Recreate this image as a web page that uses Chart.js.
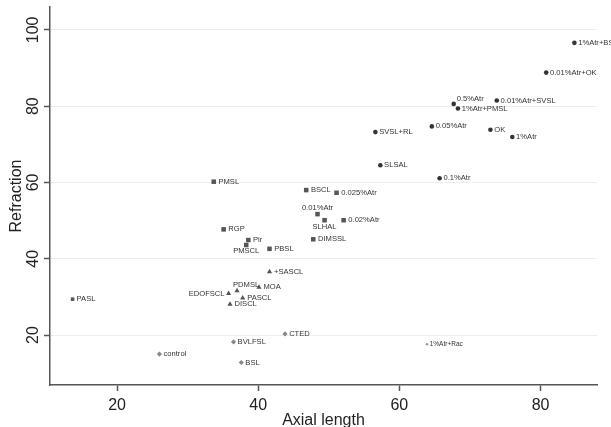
<!DOCTYPE html>
<html>
<head>
<meta charset="utf-8">
<script src="https://cdn.jsdelivr.net/npm/chart.js@4/dist/chart.umd.min.js"></script>
<style>
  html, body { margin: 0; padding: 0; background: #fff; }
  #wrap { width: 611px; height: 427px; position: relative; }
</style>
</head>
<body>
<div id="wrap"><canvas id="c" width="611" height="427"></canvas></div>
<script>
// Treatment groups, plotted as axial length vs refraction
const circleNames = ['1%Atr+BSL', '0.01%Atr+OK', '0.5%Atr', '1%Atr+PMSL', '0.01%Atr+SVSL', '0.05%Atr', 'OK', '1%Atr', 'SVSL+RL', 'SLSAL', '0.1%Atr'];
const circleAxial = [84.8, 80.8, 67.7, 68.3, 73.8, 64.6, 72.9, 76.0, 56.6, 57.3, 65.7];
const circleRefraction = [96.6, 88.8, 80.6, 79.4, 81.5, 74.7, 73.8, 71.9, 73.2, 64.5, 61.1];

const squareNames = ['PMSL', 'BSCL', '0.025%Atr', '0.01%Atr', 'SLHAL', '0.02%Atr', 'RGP', 'Pir', 'PMSCL', 'PBSL', 'DIMSSL'];
const squareAxial = [33.7, 46.8, 51.1, 48.4, 49.4, 52.1, 35.1, 38.6, 38.3, 41.6, 47.8];
const squareRefraction = [60.2, 58.0, 57.3, 51.7, 50.1, 50.1, 47.7, 44.9, 43.6, 42.6, 45.1];

const triangleNames = ['+SASCL', 'PDMSL', 'MOA', 'EDOFSCL', 'PASCL', 'DISCL'];
const triangleAxial = [41.6, 37.0, 40.1, 35.8, 37.8, 36.0];
const triangleRefraction = [36.6, 31.6, 32.5, 30.9, 29.7, 28.1];

const diamondNames = ['control', 'CTED', 'BVLFSL', 'BSL'];
const diamondAxial = [26.0, 43.8, 36.5, 37.6];
const diamondRefraction = [15.0, 20.3, 18.2, 12.8];

const smallSquareNames = ['PASL'];
const smallSquareAxial = [13.7];
const smallSquareRefraction = [29.4];

const dotNames = ['1%Atr+Rac'];
const dotAxial = [63.9];
const dotRefraction = [17.6];

const xTicks = [20, 40, 60, 80];
const yTicks = [20, 40, 60, 80, 100];

// label placement for points whose label is not simply to the right
const labelPlacement = {
  '0.5%Atr':  { dx: 3,  dy: -5, align: 'left',   base: 'middle' },
  '0.01%Atr': { dx: 0,  dy: -2, align: 'center', base: 'bottom' },
  'SLHAL':    { dx: 0,  dy: 3,  align: 'center', base: 'top' },
  'PMSCL':    { dx: 0,  dy: 2,  align: 'center', base: 'top' },
  'PDMSL':    { dx: -4, dy: -2, align: 'left',   base: 'bottom' },
  'EDOFSCL':  { dx: -4, dy: 0,  align: 'right',  base: 'middle' }
};

function pts(xs, ys) { return xs.map((x, i) => ({ x: x, y: ys[i] })); }

const FONT = '"Liberation Sans", Arial, Helvetica, sans-serif';

const pointLabels = {
  id: 'pointLabels',
  afterDatasetsDraw(chart) {
    const ctx = chart.ctx;
    ctx.save();
    chart.data.datasets.forEach((ds, di) => {
      const meta = chart.getDatasetMeta(di);
      ctx.font = (ds.labelSize || 7.6) + 'px ' + FONT;
      ctx.fillStyle = '#333';
      meta.data.forEach((el, i) => {
        const name = ds.names[i];
        const p = labelPlacement[name] || { dx: (ds.pointRadius || 3) + 1.5, dy: 0, align: 'left', base: 'middle' };
        ctx.textAlign = p.align;
        ctx.textBaseline = p.base;
        ctx.fillText(name, el.x + p.dx, el.y + p.dy);
      });
    });
    ctx.restore();
  }
};

const axisText = {
  id: 'axisText',
  afterDraw(chart) {
    const ctx = chart.ctx;
    const xs = chart.scales.x, ys = chart.scales.y;
    const area = chart.chartArea;
    ctx.save();
    ctx.fillStyle = '#222';
    ctx.font = '16px ' + FONT;
    // x tick labels
    ctx.textAlign = 'center';
    ctx.textBaseline = 'alphabetic';
    xTicks.forEach(v => ctx.fillText(String(v), xs.getPixelForValue(v), 410));
    // y tick labels, rotated
    yTicks.forEach(v => {
      ctx.save();
      ctx.translate(38, ys.getPixelForValue(v));
      ctx.rotate(-Math.PI / 2);
      ctx.textAlign = 'center';
      ctx.textBaseline = 'alphabetic';
      ctx.fillText(String(v), 0, 0);
      ctx.restore();
    });
    // axis titles
    ctx.font = '16px ' + FONT;
    ctx.textAlign = 'center';
    ctx.fillText('Axial length', (area.left + area.right) / 2, 425);
    ctx.save();
    ctx.translate(21, 196);
    ctx.rotate(-Math.PI / 2);
    ctx.fillText('Refraction', 0, 0);
    ctx.restore();
    ctx.restore();
  }
};

new Chart(document.getElementById('c'), {
  type: 'scatter',
  data: {
    datasets: [
      { names: circleNames, data: pts(circleAxial, circleRefraction), pointStyle: 'circle', pointRadius: 2.3, backgroundColor: '#333', borderColor: '#333', borderWidth: 0 },
      { names: squareNames, data: pts(squareAxial, squareRefraction), pointStyle: 'rect', pointRadius: 3.2, backgroundColor: '#555', borderColor: '#555', borderWidth: 0 },
      { names: triangleNames, data: pts(triangleAxial, triangleRefraction), pointStyle: 'triangle', pointRadius: 3, backgroundColor: '#555', borderColor: '#555', borderWidth: 0 },
      { names: diamondNames, data: pts(diamondAxial, diamondRefraction), pointStyle: 'rectRot', pointRadius: 2.6, backgroundColor: '#888', borderColor: '#888', borderWidth: 0 },
      { names: smallSquareNames, data: pts(smallSquareAxial, smallSquareRefraction), pointStyle: 'rect', pointRadius: 2.5, backgroundColor: '#555', borderColor: '#555', borderWidth: 0 },
      { names: dotNames, data: pts(dotAxial, dotRefraction), pointStyle: 'circle', pointRadius: 1.3, backgroundColor: '#999', borderColor: '#999', borderWidth: 0, labelSize: 6.5 }
    ]
  },
  options: {
    responsive: false,
    animation: false,
    layout: { padding: { top: 7, right: 14, left: 0, bottom: 0 } },
    plugins: { legend: { display: false }, tooltip: { enabled: false } },
    scales: {
      x: {
        type: 'linear',
        min: 10.5, max: 88,
        ticks: { display: false, stepSize: 20, includeBounds: false },
        grid: { drawOnChartArea: false, drawTicks: true, tickLength: 6, tickColor: '#555', tickWidth: 1.5 },
        border: { display: true, color: '#555', width: 1.5 },
        afterFit(scale) { scale.height = 42; }
      },
      y: {
        type: 'linear',
        min: 6.9, max: 106,
        ticks: { display: false, stepSize: 20, includeBounds: false },
        grid: { drawOnChartArea: true, color: '#ececec', lineWidth: 1, drawTicks: true, tickLength: 6, tickColor: '#555', tickWidth: 1.5 },
        border: { display: true, color: '#555', width: 1.5 },
        afterFit(scale) { scale.width = 50; }
      }
    }
  },
  plugins: [pointLabels, axisText]
});
</script>
</body>
</html>
